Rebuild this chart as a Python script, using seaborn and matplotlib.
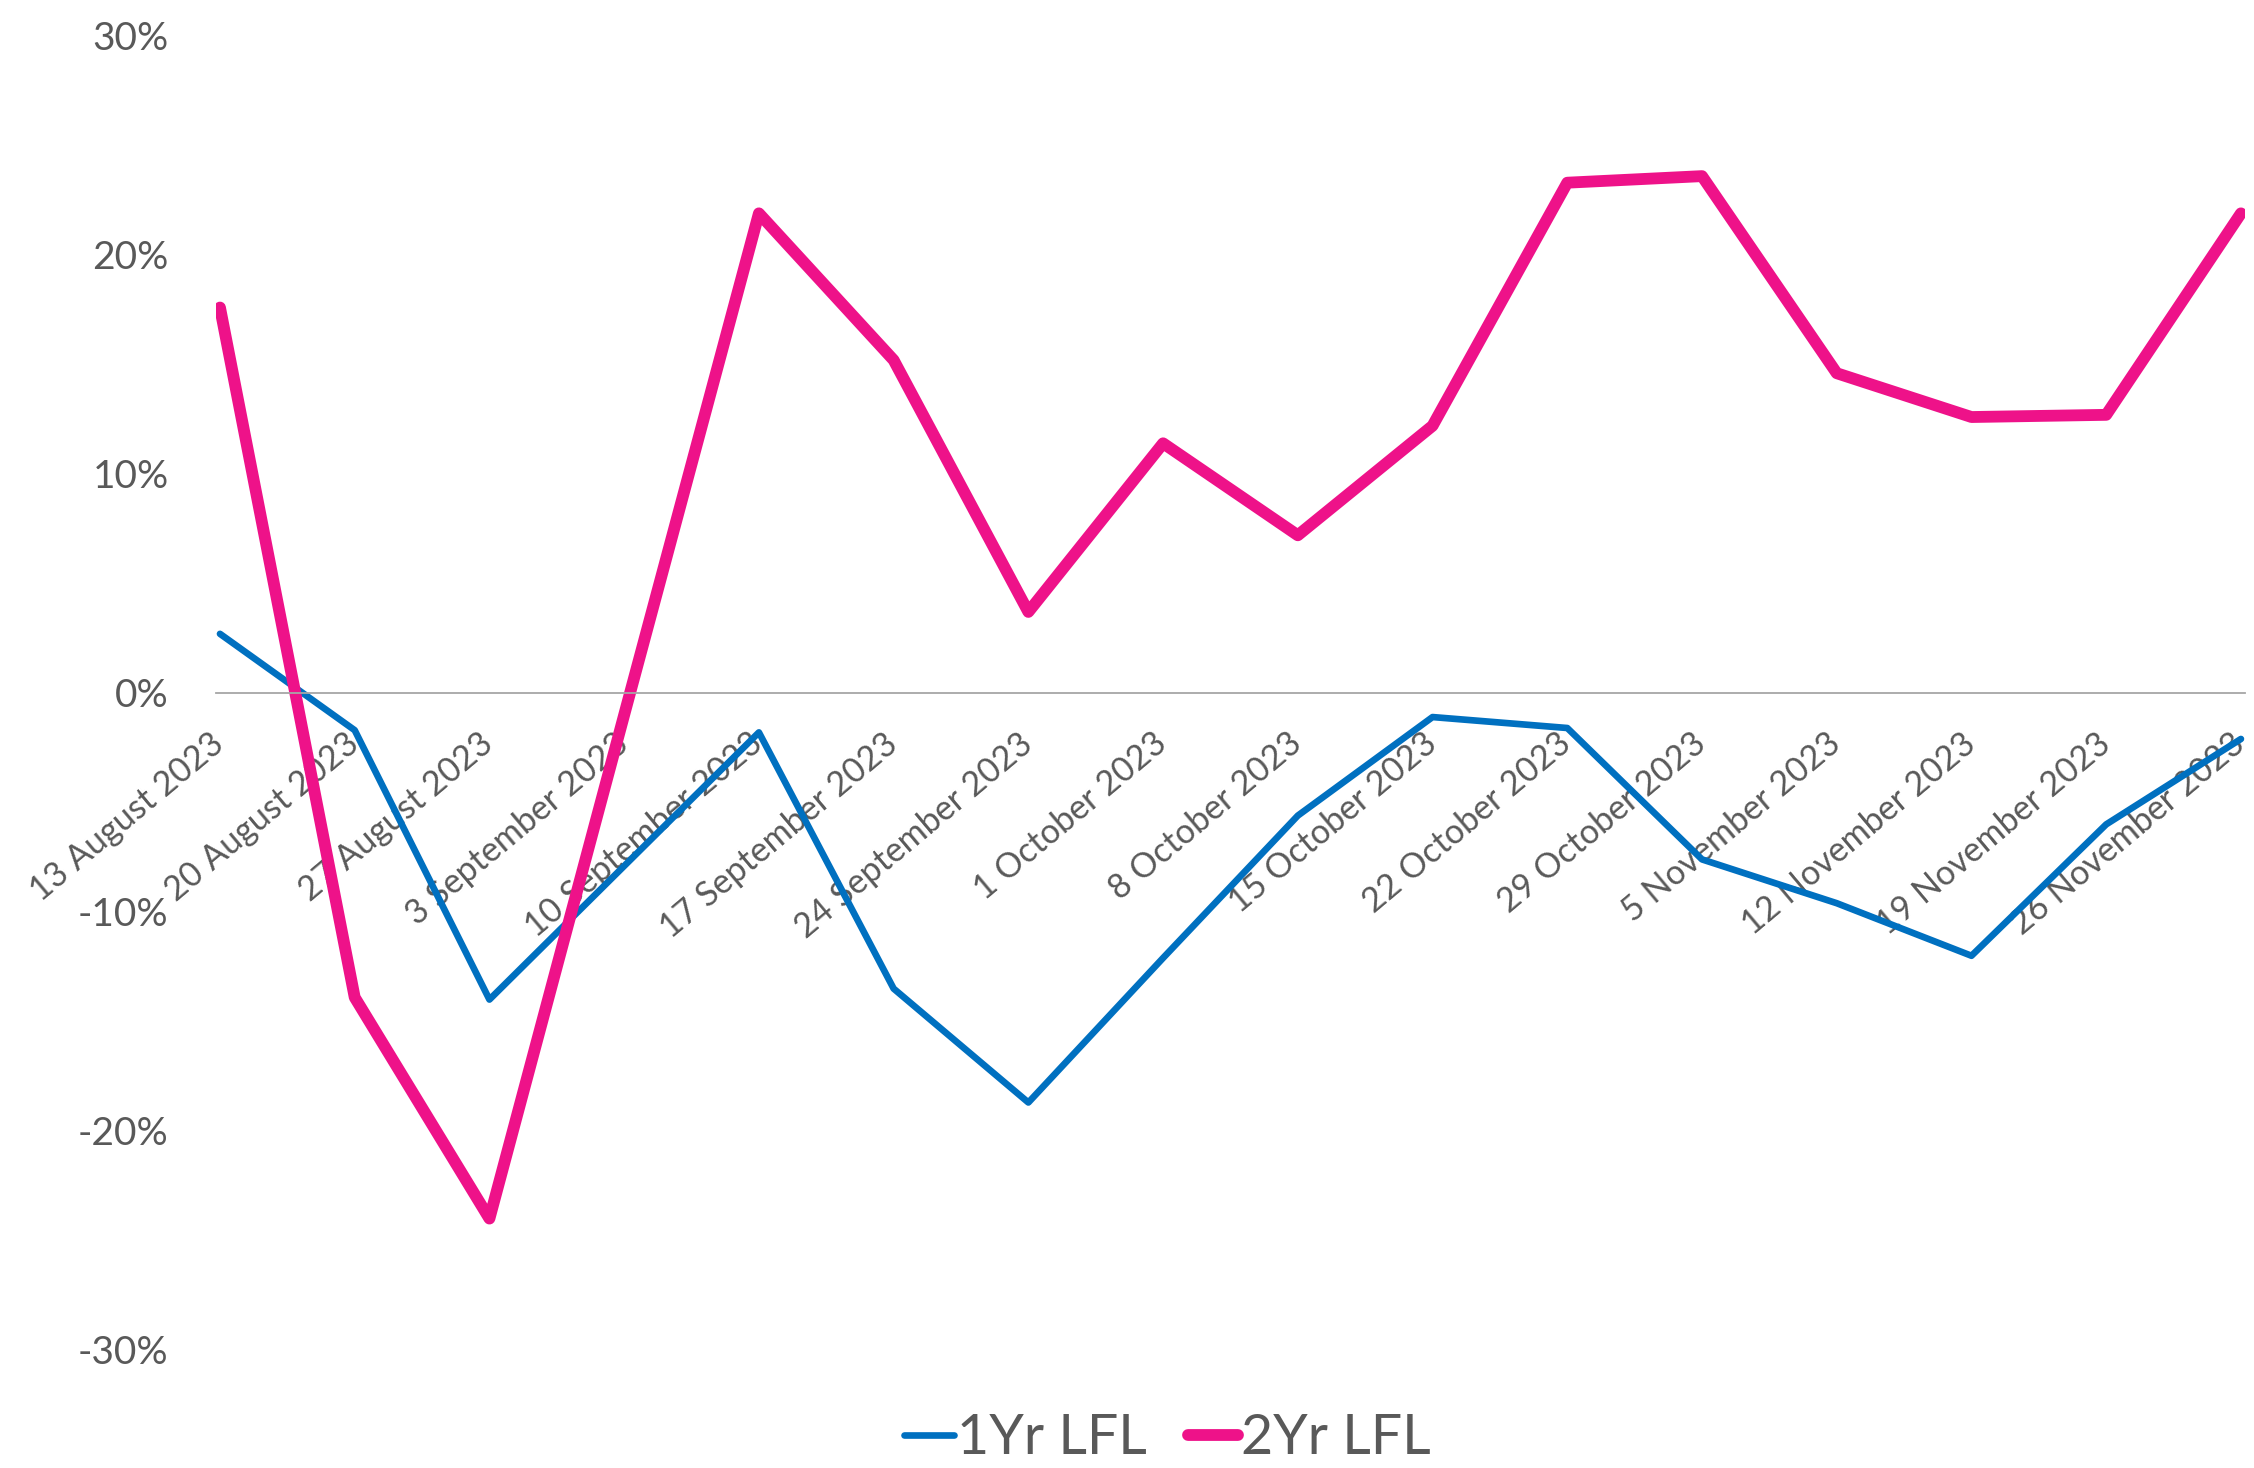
import matplotlib
matplotlib.use("Agg")
import matplotlib.pyplot as plt
import matplotlib.ticker as mtick
import matplotlib.transforms as mtrans
import seaborn as sns
import pandas as pd

##-----Data-----##
weeks = ["13 August 2023", "20 August 2023", "27 August 2023", "3 September 2023",
         "10 September 2023", "17 September 2023", "24 September 2023", "1 October 2023",
         "8 October 2023", "15 October 2023", "22 October 2023", "29 October 2023",
         "5 November 2023", "12 November 2023", "19 November 2023", "26 November 2023"]
lfl_1yr = [2.7, -1.7, -14.0, -7.9, -1.8, -13.5, -18.7, -12.1,
           -5.6, -1.1, -1.6, -7.6, -9.6, -12.0, -6.0, -2.1]
lfl_2yr = [17.6, -13.9, -24.0, -1.0, 21.9, 15.2, 3.7, 11.4,
           7.2, 12.2, 23.3, 23.6, 14.6, 12.6, 12.7, 21.9]

blue = "#0070C0"
pink = "#EE1289"
grey_txt = "#595959"

df = pd.DataFrame({"week": weeks, "1Yr LFL": lfl_1yr, "2Yr LFL": lfl_2yr})
df["pos"] = range(len(df))

sns.set_style("white")
plt.rcParams['font.family'] = ['Lato', 'DejaVu Sans']

fig = plt.figure(figsize=(22.54, 14.68), dpi=100)
ax = fig.add_axes([0.0958, 0.0804, 0.9002, 0.8951])

sns.lineplot(data=df, x="pos", y="1Yr LFL", color=blue, linewidth=4.8,
             ax=ax, label="1Yr LFL", solid_capstyle="round", solid_joinstyle="round")
sns.lineplot(data=df, x="pos", y="2Yr LFL", color=pink, linewidth=8.5,
             ax=ax, label="2Yr LFL", solid_capstyle="round", solid_joinstyle="round")

##-----Axes styling-----##
for s in ["top", "right", "left"]:
    ax.spines[s].set_visible(False)
# move the category axis to the zero line (do this before setting ticks)
ax.spines["bottom"].set_position(("data", 0))
ax.spines["bottom"].set_color("#A6A6A6")
ax.spines["bottom"].set_linewidth(1.3)

ax.set_xlim(-0.03, len(weeks) - 1 + 0.03)
ax.set_ylim(-30, 30)
ax.set_yticks([-30, -20, -10, 0, 10, 20, 30])
ax.yaxis.set_major_formatter(mtick.FuncFormatter(lambda v, p: f"{v:.0f}%"))
ax.set_xticks(df["pos"])
ax.set_xticklabels(weeks, rotation=40, ha="right", va="baseline",
                   rotation_mode="anchor")
ax.set_xlabel("")
ax.set_ylabel("")

ax.tick_params(axis="x", length=0, pad=39, labelsize=24.5, labelcolor=grey_txt)
ax.tick_params(axis="y", length=0, pad=34, labelsize=28, labelcolor=grey_txt)

# nudge the category labels slightly right, like the original
shift = mtrans.ScaledTranslation(6 / 100, 0, fig.dpi_scale_trans)
for lbl in ax.get_xticklabels():
    lbl.set_transform(lbl.get_transform() + shift)

##-----Legend-----##
ax.get_legend().remove()
handles, labels = ax.get_legend_handles_labels()
fig.legend(handles, labels, loc="center", bbox_to_anchor=(0.518, 0.02), ncol=2,
           frameon=False, fontsize=40, handlelength=0.9, handletextpad=0.05,
           columnspacing=0.75, labelcolor=grey_txt)

fig.savefig("out.png", dpi=100)
